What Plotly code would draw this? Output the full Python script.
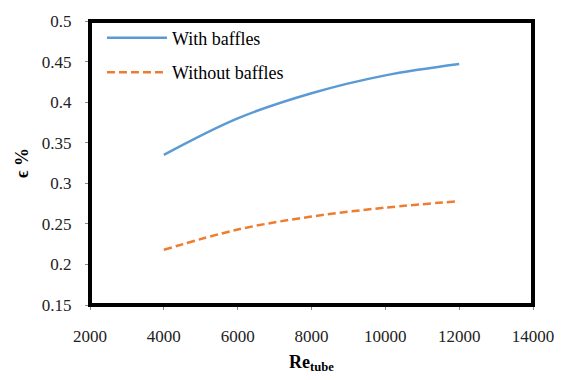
import plotly.graph_objects as go

re_tube = [4000, 6000, 8000, 10000, 12000]
with_baffles = [0.335, 0.380, 0.411, 0.433, 0.447]
without_baffles = [0.218, 0.243, 0.259, 0.270, 0.278]

x_ticks = [2000, 4000, 6000, 8000, 10000, 12000, 14000]
y_ticks = [0.15, 0.2, 0.25, 0.3, 0.35, 0.4, 0.45, 0.5]

SERIF = "Times New Roman"

fig = go.Figure()
fig.add_trace(go.Scatter(x=re_tube, y=with_baffles, mode="lines", name="With baffles",
                         legendgroup="a",
                         line=dict(color="#5B9BD5", width=2.5, shape="spline")))
fig.add_trace(go.Scatter(x=re_tube, y=without_baffles, mode="lines", name="Without baffles",
                         legendgroup="b",
                         line=dict(color="#ED7D31", width=2.5, dash="8px,4px", shape="spline")))

fig.update_layout(
    width=569, height=380,
    margin=dict(l=90, r=36, t=15, b=67),
    paper_bgcolor="white", plot_bgcolor="white",
    font=dict(family=SERIF, size=17, color="black"),
    showlegend=True,
    legend=dict(x=0.027, y=1.005, xanchor="left", yanchor="top", bgcolor="rgba(0,0,0,0)",
                font=dict(family=SERIF, size=18, color="black"),
                itemwidth=60, tracegroupgap=8),
    xaxis=dict(range=[2000, 14000], tickvals=x_ticks, ticktext=[str(v) for v in x_ticks],
               showgrid=False, zeroline=False, ticks="outside", ticklen=4, tickcolor="#888",
               ticklabelstandoff=12,
               tickfont=dict(family=SERIF, size=17, color="#222"),
               title=dict(text="<b>Re<sub>tube</sub></b>", font=dict(family=SERIF, size=18), standoff=9)),
    yaxis=dict(range=[0.15, 0.5], tickvals=y_ticks, ticktext=[f"{v:g}" for v in y_ticks],
               showgrid=False, zeroline=False, ticks="outside", ticklen=4, tickcolor="#888",
               ticklabelstandoff=10,
               tickfont=dict(family=SERIF, size=17, color="#222"),
               title=dict(text="<b>ϵ %</b>", font=dict(family=SERIF, size=18), standoff=8)),
)
fig.add_shape(type="rect", xref="paper", yref="paper", x0=0, y0=0, x1=1, y1=1,
              line=dict(color="black", width=4))
fig.write_html("out.html", config={"displayModeBar": False},
               post_script="document.body.style.margin='0';")
